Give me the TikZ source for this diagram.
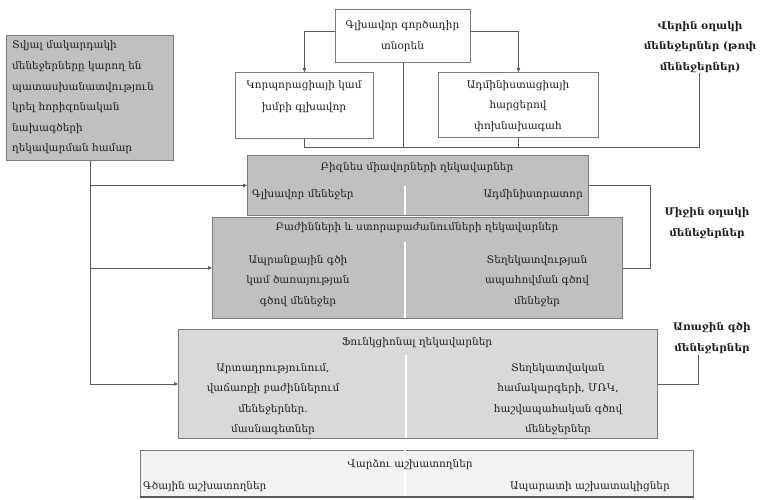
\documentclass[tikz,border=0pt]{standalone}
\usepackage{fontspec}
\setmainfont{DejaVu Serif}
\usetikzlibrary{arrows.meta}
\definecolor{ink}{HTML}{1E1E1E}
\definecolor{wire}{HTML}{5A5A5A}
\definecolor{edge}{HTML}{7A7A7A}
\definecolor{fillA}{HTML}{C0C0C0}
\definecolor{fillB}{HTML}{D9D9D9}
\definecolor{fillC}{HTML}{F2F2F2}
\tikzset{
  txt/.style={text=ink, inner sep=0pt, align=center, font=\fontsize{10.5}{20.5}\selectfont},
  lbl/.style={text=ink, inner sep=0pt, align=center, font=\bfseries\fontsize{10.5}{20.5}\selectfont},
  panel/.style={draw=edge, line width=0.9pt, inner sep=0pt, anchor=north west},
  whitebox/.style={panel, fill=white},
  split/.style={draw=white, line width=2pt},
  wireline/.style={draw=wire, line width=0.8pt},
  arrow/.style={wireline, -{Triangle[length=4pt,width=3.5pt]}}
}
\begin{document}
\begin{tikzpicture}[x=1pt,y=-1pt]
\useasboundingbox (0,0) rectangle (762,499);

% horizontal-projects note
\node[panel, fill=fillA, minimum width=167pt, minimum height=125pt] (note) at (6,35) {};
\node[txt, align=left, anchor=north west, font=\fontsize{10.5}{20.6}\selectfont] (notetext) at (12,40.5)
  {Տվյալ մակարդակի\\մենեջերները կարող են\\պատասխանատվություն\\կրել հորիզոնական\\նախագծերի\\ղեկավարման համար};

% top level
\node[whitebox, minimum width=135pt, minimum height=53pt] (ceo) at (335,9) {};
\node[txt] (ceotext) at (402.5,36) {Գլխավոր գործադիր\\տնօրեն};
\node[whitebox, minimum width=138pt, minimum height=66pt] (corp) at (235,72) {};
\node[txt, anchor=north, font=\fontsize{10.5}{22}\selectfont] (corptext) at (304,80) {Կորպորացիայի կամ\\խմբի գլխավոր};
\node[whitebox, minimum width=160pt, minimum height=65pt] (vp) at (438,72) {};
\node[txt, anchor=north] (vptext) at (518,80) {Ադմինիստացիայի\\հարցերով\\փոխնախագահ};

\draw[arrow] ([yshift=5pt]ceo.west) -| (corp.north);
\draw[arrow] ([yshift=5pt]ceo.east) -| (vp.north);

\node[lbl] (toplbl) at (700,47) {Վերին օղակի\\մենեջերներ (թոփ\\մենեջերներ)};
\coordinate (topbar) at (699,147);
\draw[wireline] (corp.south) |- (topbar) -- (topbar |- toplbl.south);
\draw[wireline] (ceo.south) -- (ceo.south |- topbar);
\draw[wireline] (vp.south) -- (vp.south |- topbar);

% middle level
\node[panel, fill=fillA, minimum width=410pt, minimum height=101pt] (dept) at (212,217) {};
\draw[split] (405,242) -- (405,318);
\node[txt] (depttitle) at (417,228) {Բաժինների և ստորաբաժանումների ղեկավարներ};
\node[txt] (deptleft) at (298,281) {Ապրանքային գծի\\կամ ծառայության\\գծով մենեջեր};
\node[txt] (deptright) at (537,281) {Տեղեկատվության\\ապահովման գծով\\մենեջեր};

\node[panel, fill=fillA, minimum width=341pt, minimum height=60pt] (biz) at (247,155) {};
\draw[split] (405,186) -- (405,215);
\node[txt] (biztitle) at (417,168) {Բիզնես միավորների ղեկավարներ};
\node[txt, anchor=west] (bizleft) at (252,195) {Գլխավոր մենեջեր};
\node[txt, anchor=east] (bizright) at (583,195) {Ադմինիստրատոր};

\node[lbl] (midlbl) at (707,223) {Միջին օղակի\\մենեջերներ};
\coordinate (midbar) at (650,226);
\draw[wireline] (biz.east) -| (midbar) |- (dept.east);

% first line
\node[panel, fill=fillB, minimum width=479pt, minimum height=109pt] (func) at (178,329) {};
\draw[split] (406,355) -- (406,438);
\node[txt] (functitle) at (417,343) {Ֆունկցիոնալ ղեկավարներ};
\node[txt] (funcleft) at (273,399) {Արտադրությունում,\\վաճառքի բաժիններում\\մենեջերներ.\\մասնագետներ};
\node[txt] (funcright) at (558,399) {Տեղեկատվական\\համակարգերի, ՄՌԿ,\\հաշվապահական գծով\\մենեջերներ};

\node[lbl] (frontlbl) at (712,338) {Առաջին գծի\\մենեջերներ};
\coordinate (frontend) at (698,355);
\draw[wireline] (func.east) -| (frontend);

% hired staff
\node[panel, fill=fillC, minimum width=553pt, minimum height=46pt] (staff) at (140,450) {};
\draw[split] (405,450) -- (405,496);
\draw[draw=wire, line width=1.3pt] (staff.south west) -- (staff.south east);
\node[txt] (stafftitle) at (410,465) {Վարձու աշխատողներ};
\node[txt, anchor=west] (staffleft) at (143,487) {Գծային աշխատողներ};
\node[txt, anchor=east] (staffright) at (670,487) {Ապարատի աշխատակիցներ};

% links from the note to each management level
\draw[wireline] (note.south) -- (note.south |- func.west);
\draw[arrow] (note.south |- biz.west) -- (biz.west);
\draw[arrow] (note.south |- dept.west) -- (dept.west);
\draw[arrow] (note.south |- func.west) -- (func.west);
\end{tikzpicture}
\end{document}
